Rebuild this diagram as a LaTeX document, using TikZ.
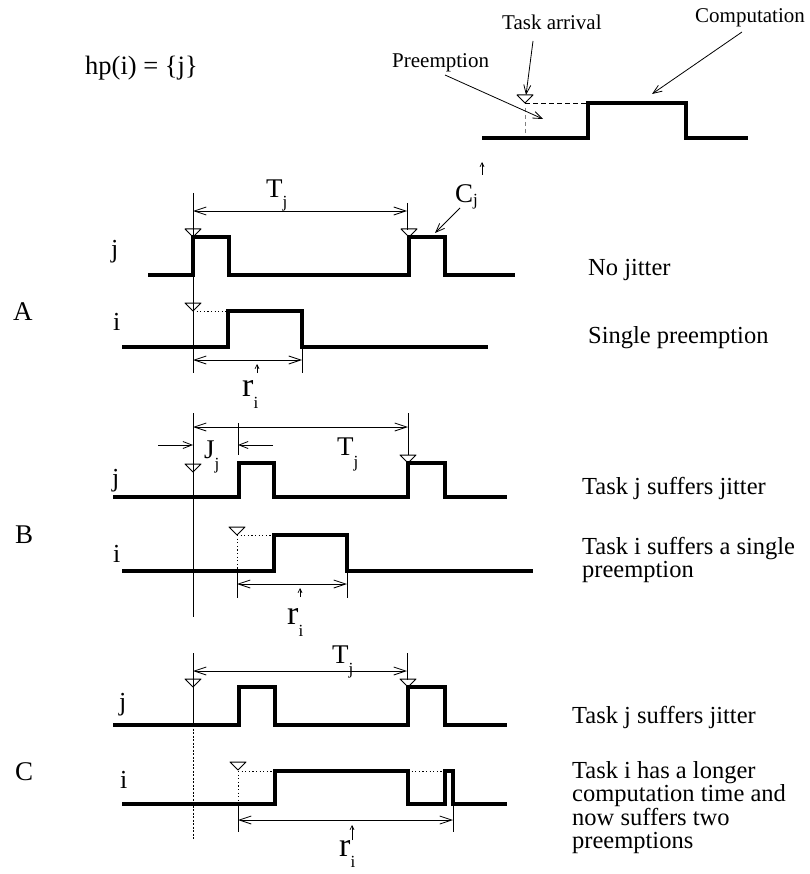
\documentclass[tikz,border=0pt]{standalone}
\usepackage{fontspec}
\setmainfont{Liberation Serif}
\usetikzlibrary{arrows.meta}

% small font for subscripts
\newcommand\subfont{\fontsize{17}{17}\selectfont}

\begin{document}
\begin{tikzpicture}[x=1pt,y=-1pt,
  sig/.style={line width=3.4pt, line join=miter},
  hair/.style={line width=0.8pt},
  dimline/.style={hair, {Straight Barb[length=12pt,width=8pt]}-{Straight Barb[length=12pt,width=8pt]}},
  pointer/.style={hair, -{Straight Barb[length=9pt,width=7pt]}},
  uptick/.style={line width=0.7pt, -{Straight Barb[length=4pt,width=4pt]}},
  dotline/.style={line width=0.9pt, dash pattern=on 1.2pt off 2.4pt},
  lbl/.style={inner sep=0pt, anchor=base west, font=\fontsize{26}{26}\selectfont},
  qty/.style={inner sep=0pt, anchor=base west, font=\fontsize{27}{27}\selectfont},
  rlbl/.style={inner sep=0pt, anchor=base west, font=\fontsize{34}{34}\selectfont},
  note/.style={inner sep=0pt, anchor=base west, font=\fontsize{21}{21}\selectfont},
  side/.style={inner sep=0pt, anchor=north west, align=left, font=\fontsize{24.5}{23.5}\selectfont},
  sidel/.style={inner sep=0pt, anchor=base west, font=\fontsize{24.5}{24.5}\selectfont},
  case/.style={inner sep=0pt, anchor=base west, font=\fontsize{27}{27}\selectfont},
  arrv/.pic={\draw[line width=1pt, line join=round] (-8,-8) -- (8,-8) -- (0,0) -- cycle;}
]
\useasboundingbox (0,0) rectangle (809,874);

% ---------------- legend ----------------
\node[inner sep=0pt, anchor=base west, font=\fontsize{26.5}{26.5}\selectfont] (hp) at (85,75) {hp(i) = \{j\}};
\node[note] (arrtxt) at (502,30) {Task arrival};
\node[note] (comptxt) at (695,23) {Computation};
\node[note] (preetxt) at (392,68) {Preemption};

\draw[gray, line width=0.7pt, dash pattern=on 4pt off 3pt] (525,108) -- (525,136);
\draw[hair, dash pattern=on 5pt off 3pt] (525,103) -- (588,103);
\draw[sig] (482,138) -- (588,138) -- (588,103) -- (686,103) -- (686,138) -- (748,138);
\pic at (525,103) {arrv};

\coordinate (arrfrom) at (533,41);
\coordinate (arrto) at (526,95);
\coordinate (prefrom) at (445,75);
\coordinate (preto) at (543,119);
\coordinate (compfrom) at (742,32);
\coordinate (compto) at (652,94);
\draw[pointer] (arrfrom) -- (arrto);
\draw[pointer] (prefrom) -- (preto);
\draw[pointer] (compfrom) -- (compto);

% ---------------- case A ----------------
\node[case] (caseA) at (13,320) {A};
\node[lbl] (jA) at (111,258) {j};
\node[lbl] (iA) at (113,330) {i};

\draw[hair] (193,193) -- (193,373);
\draw[hair] (407,203) -- (407,230);
\draw[dimline] (193,211) -- (407,211);
\node[qty] (TjA) at (266,198) {T\raisebox{-10pt}{\subfont j}};

\draw[sig] (148,275) -- (193,275) -- (193,237) -- (229,237) -- (229,275)
  -- (409,275) -- (409,237) -- (445,237) -- (445,275) -- (515,275);
\pic at (193,237) {arrv};
\pic at (409,237) {arrv};

\node[qty] (CjA) at (455,203) {C\raisebox{-3pt}{\subfont j}};
\draw[uptick] (482,175) -- (482,162);
\coordinate (cfrom) at (460,208);
\coordinate (cto) at (435,233);
\draw[pointer] (cfrom) -- (cto);

\draw[dotline] (193,311) -- (228,311);
\draw[sig] (122,347) -- (228,347) -- (228,311) -- (302,311) -- (302,347) -- (488,347);
\pic at (193,311) {arrv};

\draw[hair] (302,347) -- (302,373);
\draw[dimline] (193,360) -- (302,360);
\draw[uptick] (257,373) -- (257,364);
\node[rlbl] (riA) at (242,396) {r\raisebox{-12pt}{\subfont i}};

\node[sidel] (tA1) at (588,276) {No jitter};
\node[sidel] (tA2) at (588,343) {Single preemption};

% ---------------- case B ----------------
\node[case] (caseB) at (15,543) {B};
\node[lbl] (jB) at (112,486) {j};
\node[lbl] (iB) at (113,562) {i};

\draw[hair] (193,413) -- (193,617);
\draw[hair] (408,413) -- (408,455);
\draw[dimline] (193,427) -- (408,427);
\node[qty] (TjB) at (337,455) {T\raisebox{-12pt}{\subfont j}};

\draw[hair] (238,423) -- (238,455);
\draw[pointer] (158,445) -- (193,445);
\draw[pointer] (273,445) -- (238,445);
\node[qty] (JjB) at (204,458) {J\raisebox{-11pt}{\subfont j}};

\draw[sig] (113,497) -- (239,497) -- (239,463) -- (274,463) -- (274,497)
  -- (408,497) -- (408,463) -- (445,463) -- (445,497) -- (507,497);
\pic at (193,472) {arrv};
\pic at (408,463) {arrv};

\draw[dotline] (237,535) -- (274,535);
\draw[dotline] (237,535) -- (237,571);
\draw[hair] (237,571) -- (237,598);
\draw[sig] (122,571) -- (274,571) -- (274,535) -- (347,535) -- (347,571) -- (533,571);
\pic at (237,535) {arrv};

\draw[hair] (347,571) -- (347,598);
\draw[dimline] (237,584) -- (347,584);
\draw[uptick] (300,597) -- (300,588);
\node[rlbl] (riB) at (287,624) {r\raisebox{-12pt}{\subfont i}};

\node[sidel] (tB1) at (582,494) {Task j suffers jitter};
\node[side] (tB2) at (582,537) {Task i suffers a single\\preemption};

% ---------------- case C ----------------
\node[case] (caseC) at (15,780) {C};
\node[lbl] (jC) at (119,710) {j};
\node[lbl] (iC) at (120,788) {i};

\draw[hair] (193,653) -- (193,725);
\draw[hair, dash pattern=on 2pt off 1.5pt] (193,725) -- (193,840);
\draw[hair] (407,653) -- (407,680);
\draw[dimline] (193,671) -- (407,671);
\node[qty] (TjC) at (332,663) {T\raisebox{-11pt}{\subfont j}};

\draw[sig] (113,725) -- (239,725) -- (239,687) -- (275,687) -- (275,725)
  -- (408,725) -- (408,687) -- (445,687) -- (445,725) -- (507,725);
\pic at (193,687) {arrv};
\pic at (408,687) {arrv};

\draw[dotline] (238,771) -- (275,771);
\draw[dotline] (408,771) -- (445,771);
\draw[dotline] (238,771) -- (238,804);
\draw[hair] (238,804) -- (238,832);
\draw[sig] (122,804) -- (275,804) -- (275,771) -- (408,771) -- (408,804)
  -- (445,804) -- (445,771) -- (453,771) -- (453,804) -- (507,804);
\pic at (238,770) {arrv};

\draw[hair] (453,804) -- (453,832);
\draw[dimline] (238,820) -- (453,820);
\draw[uptick] (352,840) -- (352,825);
\node[rlbl] (riC) at (339,856) {r\raisebox{-11pt}{\subfont i}};

\node[sidel] (tC1) at (572,723) {Task j suffers jitter};
\node[side] (tC2) at (572,761) {Task i has a longer\\computation time and\\now suffers two\\preemptions};
\end{tikzpicture}
\end{document}
